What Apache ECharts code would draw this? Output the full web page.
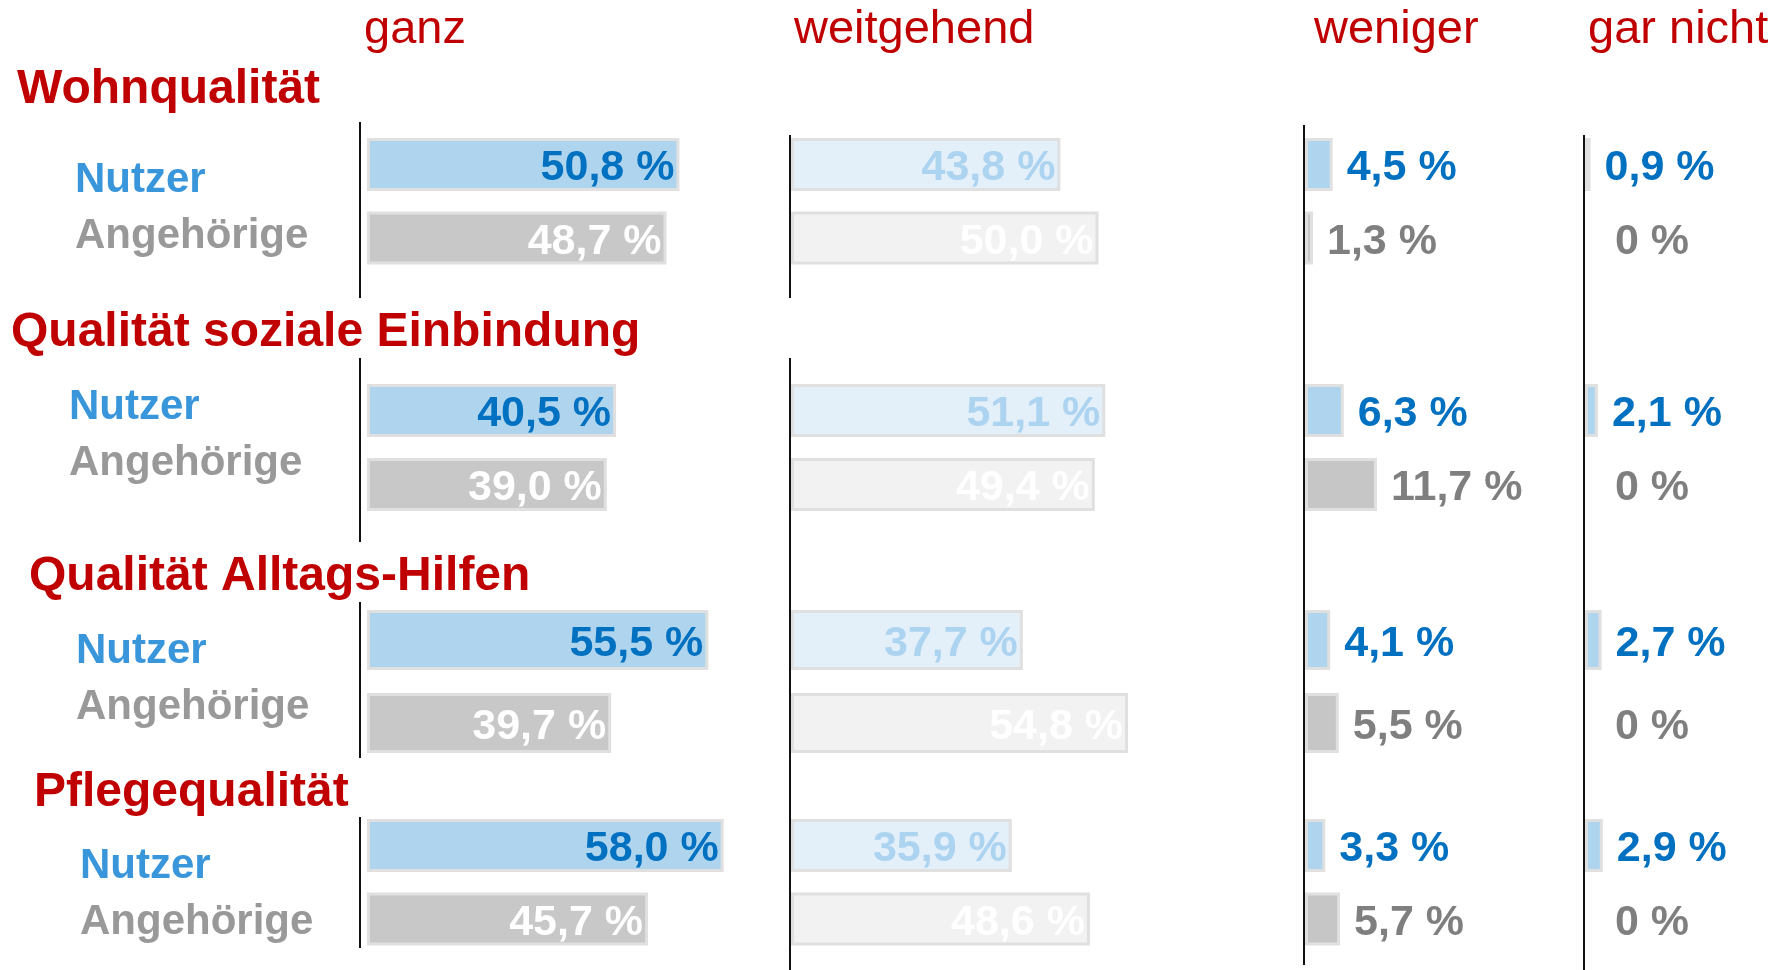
<!DOCTYPE html>
<html>
<head>
<meta charset="utf-8">
<script src="https://cdn.jsdelivr.net/npm/echarts@6/dist/echarts.min.js"></script>
<style>
html,body{margin:0;padding:0;background:#fff;}
#chart{width:1789px;height:970px;}
</style>
</head>
<body>
<div id="chart"></div>
<script>
// ---- data ----
const groups = ['Wohnqualität', 'Qualität soziale Einbindung', 'Qualität Alltags-Hilfen', 'Pflegequalität'];
const respondents = ['Nutzer', 'Angehörige'];
const columns = ['ganz', 'weitgehend', 'weniger', 'gar nicht'];
const nutzerGanz = [50.8, 40.5, 55.5, 58.0];
const nutzerWeitgehend = [43.8, 51.1, 37.7, 35.9];
const nutzerWeniger = [4.5, 6.3, 4.1, 3.3];
const nutzerGarNicht = [0.9, 2.1, 2.7, 2.9];
const angehoerigeGanz = [48.7, 39.0, 39.7, 45.7];
const angehoerigeWeitgehend = [50.0, 49.4, 54.8, 48.6];
const angehoerigeWeniger = [1.3, 11.7, 5.5, 5.7];
const angehoerigeGarNicht = [0, 0, 0, 0];

const nutzerByCol = [nutzerGanz, nutzerWeitgehend, nutzerWeniger, nutzerGarNicht];
const angehoerigeByCol = [angehoerigeGanz, angehoerigeWeitgehend, angehoerigeWeniger, angehoerigeGarNicht];

// ---- layout ----
const PX_PER_PCT = 6.15;
const colLayout = [
  {left: 367, max: 60, header: 364},
  {left: 791, max: 60, header: 794},
  {left: 1305, max: 20, header: 1314},
  {left: 1585, max: 20, header: 1588}
];
const groupLayout = [
  {cN: 164.5, cA: 238, bw: 53, titleX: 17, titleY: 90, nx: 75, ny: 180, ay: 236},
  {cN: 410.5, cA: 484.5, bw: 53, titleX: 11, titleY: 333, nx: 69, ny: 407, ay: 463},
  {cN: 640, cA: 723, bw: 60, titleX: 29, titleY: 577, nx: 76, ny: 651, ay: 707},
  {cN: 845.5, cA: 919, bw: 53, titleX: 34, titleY: 793, nx: 80, ny: 866, ay: 922}
];
const axisSegments = [
  [360, 122, 298], [360, 358, 542], [360, 602, 758], [360, 817, 948],
  [790, 135, 298], [790, 358, 970],
  [1304, 125, 965],
  [1584, 135, 970]
];

// ---- styles ----
const FONT = '"Liberation Sans", Arial, sans-serif';
const RED = '#c00000';
const barStyles = [
  [{fill: '#aed4ee', label: '#0070c0'}, {fill: '#c8c8c8', label: '#ffffff'}],
  [{fill: '#e3eff9', label: '#acd3ef'}, {fill: '#f2f2f2', label: '#ffffff'}],
  [{fill: '#aed4ee', label: '#0070c0'}, {fill: '#c6c6c6', label: '#7f7f7f'}],
  [{fill: '#aed4ee', label: '#0070c0'}, {fill: '#c6c6c6', label: '#7f7f7f'}]
];
function fmt(v) { return v === 0 ? '0 %' : v.toFixed(1).replace('.', ',') + ' %'; }

const grids = [], xAxes = [], yAxes = [], series = [];
groupLayout.forEach((g, gi) => {
  const d = g.cA - g.cN;
  colLayout.forEach((c, ci) => {
    const idx = grids.length;
    grids.push({left: c.left, top: g.cN - d / 2, width: c.max * PX_PER_PCT, height: 2 * d, containLabel: false});
    xAxes.push({type: 'value', gridIndex: idx, min: 0, max: c.max, show: false});
    yAxes.push({type: 'category', gridIndex: idx, data: respondents, inverse: true, show: false});
    const inside = ci < 2;
    const vals = [nutzerByCol[ci][gi], angehoerigeByCol[ci][gi]];
    series.push({
      type: 'bar',
      name: groups[gi] + ' – ' + columns[ci],
      xAxisIndex: idx, yAxisIndex: idx,
      barWidth: g.bw,
      silent: true,
      data: vals.map((v, ri) => ({
        value: v,
        itemStyle: {color: barStyles[ci][ri].fill, borderColor: '#e0e0e0', borderWidth: v === 0 ? 0 : 3},
        label: {
          show: true,
          position: inside ? 'insideRight' : 'right',
          distance: inside ? 5 : (v === 0 ? 30 : 14),
          offset: [0, 4],
          color: barStyles[ci][ri].label,
          formatter: fmt(v)
        }
      })),
      label: {fontFamily: FONT, fontWeight: 'bold', fontSize: 43}
    });
  });
});

const graphics = [];
axisSegments.forEach(s => {
  graphics.push({type: 'line', shape: {x1: s[0], y1: s[1], x2: s[0], y2: s[2]}, style: {stroke: '#111', lineWidth: 2}, silent: true});
});
columns.forEach((name, ci) => {
  graphics.push({type: 'text', x: colLayout[ci].header, y: 30,
    style: {text: name, fill: RED, font: 'normal 47px ' + FONT, verticalAlign: 'middle', align: 'left'}});
});
groupLayout.forEach((g, gi) => {
  graphics.push({type: 'text', x: g.titleX, y: g.titleY,
    style: {text: groups[gi], fill: RED, font: 'bold 48px ' + FONT, verticalAlign: 'middle', align: 'left'}});
  graphics.push({type: 'text', x: g.nx, y: g.ny,
    style: {text: respondents[0], fill: '#3a96db', font: 'bold 42px ' + FONT, verticalAlign: 'middle', align: 'left'}});
  graphics.push({type: 'text', x: g.nx, y: g.ay,
    style: {text: respondents[1], fill: '#999999', font: 'bold 42px ' + FONT, verticalAlign: 'middle', align: 'left'}});
});

const chart = echarts.init(document.getElementById('chart'), null, {renderer: 'canvas'});
chart.setOption({
  animation: false,
  backgroundColor: '#ffffff',
  grid: grids,
  xAxis: xAxes,
  yAxis: yAxes,
  series: series,
  graphic: graphics
});
</script>
</body>
</html>
